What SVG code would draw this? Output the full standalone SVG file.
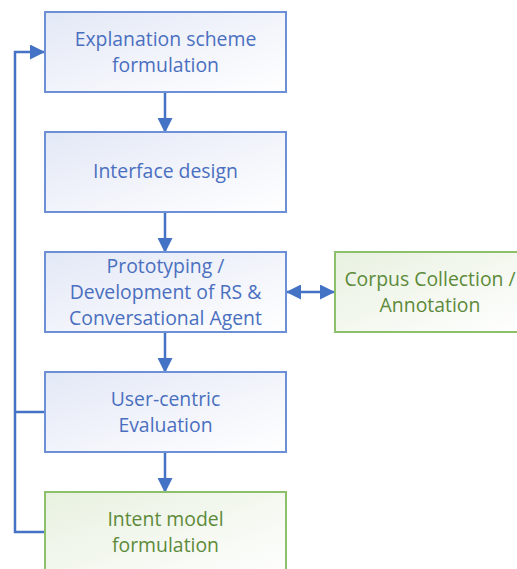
<svg xmlns="http://www.w3.org/2000/svg" width="517" height="569" viewBox="0 0 517 569">
<style>
.bb{fill:url(#gb);stroke:#6d8fd6;stroke-width:2}
.gb{fill:url(#gg);stroke:#8dc06a;stroke-width:2}
.tb{font-family:"Open Sans","Liberation Sans",sans-serif;font-size:19.4px;fill:#4a6fc0;text-anchor:middle}
.tg{font-family:"Open Sans","Liberation Sans",sans-serif;font-size:19.4px;fill:#5d8a3a;text-anchor:middle}
.c{stroke:#4472c4;stroke-width:2.5;fill:none}
</style>
<defs>
<linearGradient id="gb" x1="0" y1="0" x2="1" y2="1"><stop offset="0" stop-color="#e3e8f6"/><stop offset="1" stop-color="#ffffff"/></linearGradient>
<linearGradient id="gg" x1="0" y1="0" x2="1" y2="1"><stop offset="0" stop-color="#e8f1e0"/><stop offset="1" stop-color="#ffffff"/></linearGradient>
<marker id="as" markerWidth="15" markerHeight="15" refX="14" refY="7.5" orient="auto-start-reverse" markerUnits="userSpaceOnUse" viewBox="0 0 15 15"><path d="M0,0 L15,7.5 L0,15 z" fill="#4472c4"/></marker>
</defs>
<g id="connectors">
<line class="c" x1="165" y1="92" x2="165" y2="132" marker-end="url(#as)"/>
<line class="c" x1="165" y1="212" x2="165" y2="252" marker-end="url(#as)"/>
<line class="c" x1="165" y1="332" x2="165" y2="372" marker-end="url(#as)"/>
<line class="c" x1="165" y1="452" x2="165" y2="492" marker-end="url(#as)"/>
<line class="c" x1="287" y1="292" x2="334" y2="292" marker-start="url(#as)" marker-end="url(#as)"/>
<polyline class="c" points="45,532 15,532 15,52 44,52" marker-end="url(#as)"/>
<line class="c" x1="15" y1="412" x2="45" y2="412"/>
</g>
<g id="n1"><rect class="bb" x="45" y="12" width="241" height="80"/><text class="tb" x="165.5" y="46">Explanation scheme</text><text class="tb" x="165.5" y="72">formulation</text></g>
<g id="n2"><rect class="bb" x="45" y="132" width="241" height="80"/><text class="tb" x="165.5" y="178">Interface design</text></g>
<g id="n3"><rect class="bb" x="45" y="252" width="241" height="80"/><text class="tb" x="165.5" y="273">Prototyping /</text><text class="tb" x="165.5" y="299">Development of RS &amp;</text><text class="tb" x="165.5" y="325">Conversational Agent</text></g>
<g id="n4"><rect class="gb" x="335" y="252" width="190" height="80"/><text class="tg" x="430" y="286">Corpus Collection /</text><text class="tg" x="430" y="312">Annotation</text></g>
<g id="n5"><rect class="bb" x="45" y="372" width="241" height="80"/><text class="tb" x="165.5" y="406">User-centric</text><text class="tb" x="165.5" y="432">Evaluation</text></g>
<g id="n6"><rect class="gb" x="45" y="492" width="241" height="90"/><text class="tg" x="165.5" y="526">Intent model</text><text class="tg" x="165.5" y="552">formulation</text></g>
</svg>
